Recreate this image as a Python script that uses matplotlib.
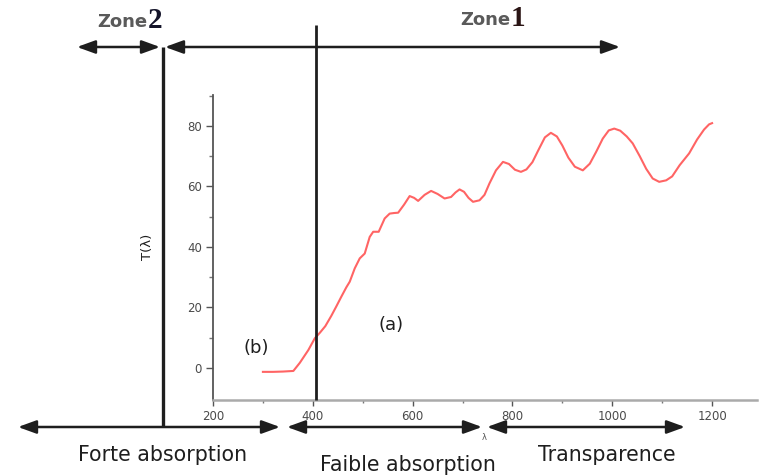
import matplotlib
matplotlib.use("Agg")
import matplotlib.pyplot as plt
from matplotlib.patches import FancyArrowPatch
import numpy as np

# transmission spectrum T(lambda), read point by point
wavelength = [300, 320, 340, 361, 374, 391, 404, 414, 425, 437, 447, 457, 467, 474, 484, 494, 504,
              514, 521, 532, 544, 554, 563, 571, 583, 594, 603, 611, 624, 637, 650, 664,
              677, 686, 694, 703, 712, 721, 734, 744, 754, 767, 781, 793, 805, 817,
              828, 840, 852, 865, 877, 889, 900, 912, 925, 941, 955, 968, 981, 993,
              1004, 1016, 1029, 1041, 1055, 1068, 1081, 1094, 1108, 1120, 1135, 1154,
              1170, 1184, 1194, 1200]
transmission = [-1.3, -1.3, -1.2, -1.0, 1.7, 5.9, 9.8, 11.6, 13.8, 17.2, 20.3, 23.5, 26.6, 28.5, 32.9, 36.2, 37.8,
                43.3, 45.0, 45.0, 49.4, 51.0, 51.2, 51.3, 54.0, 56.8, 56.2, 55.2, 57.2, 58.5, 57.5, 56.0,
                56.5, 58.0, 59.0, 58.2, 56.2, 54.9, 55.4, 57.2, 61.0, 65.3, 68.1, 67.4, 65.5, 64.8,
                65.6, 68.0, 72.0, 76.2, 77.7, 76.5, 73.5, 69.5, 66.5, 65.3, 67.5, 71.5, 75.8, 78.5,
                79.1, 78.4, 76.5, 74.2, 70.0, 65.8, 62.6, 61.5, 62.0, 63.3, 67.0, 70.9,
                75.5, 78.8, 80.5, 80.9]

x_major = [200, 400, 600, 800, 1000, 1200]
y_major = [0, 20, 40, 60, 80]

W, H = 762, 475
fig = plt.figure(figsize=(W / 100, H / 100), dpi=100)

# spectrum axes
ax = fig.add_axes([213 / W, 75 / H, 544 / W, 305 / H])
ax.plot(wavelength, transmission, color='#ff6464', lw=1.5, zorder=3,
        solid_joinstyle='round')
ax.set_xlim(200, 1290)
ax.set_ylim(-10.6, 90.2)
ax.set_xticks(x_major)
ax.set_xticks(np.arange(300, 1300, 200), minor=True)
ax.set_yticks(y_major)
ax.set_yticks([10, 30, 50, 70, 90], minor=True)
for s in ['top', 'right']:
    ax.spines[s].set_visible(False)
ax.spines['left'].set_color('#555555')
ax.spines['left'].set_linewidth(1.3)
ax.spines['bottom'].set_color('#aaaaaa')
ax.spines['bottom'].set_linewidth(1.8)
ax.tick_params(axis='y', which='major', length=5, width=1, color='#555555',
               labelsize=8.5, labelcolor='#4a4a4a', pad=3)
ax.tick_params(axis='y', which='minor', length=3, width=1, color='#777777')
ax.tick_params(axis='x', which='major', length=4, width=1, color='#555555',
               labelsize=8.5, labelcolor='#4a4a4a', pad=3)
ax.tick_params(axis='x', which='minor', length=2, width=1, color='#777777')
ax.patch.set_alpha(0)

# overlay in pixel units for the zone marks
ov = fig.add_axes([0, 0, 1, 1], zorder=5)
ov.set_xlim(0, W)
ov.set_ylim(H, 0)
ov.axis('off')
ov.patch.set_alpha(0)

ink = '#1e1e1e'


def arrow(x0, x1, y):
    ov.add_patch(FancyArrowPatch((x0, y), (x1, y),
                                 arrowstyle='<|-|>,head_length=1.1,head_width=0.4',
                                 mutation_scale=10, shrinkA=0, shrinkB=0,
                                 color=ink, lw=1.8))


# top: zone 2 / zone 1
arrow(77, 160, 47)
arrow(165, 620, 47)
# bottom: absorption regimes
arrow(18, 280, 427)
arrow(287, 482, 427)
arrow(487, 685, 427)

ov.plot([163, 163], [47, 426], color=ink, lw=2.4, solid_capstyle='butt')
ov.plot([316, 316], [25, 400], color=ink, lw=2.0, solid_capstyle='butt')

ov.text(147, 22, 'Zone', ha='right', va='center', fontsize=13, color='#5a5a5a',
        weight='bold')
ov.text(148, 20, '2', ha='left', va='center', fontsize=21, color='#14142a',
        family='Liberation Serif', weight='bold')
ov.text(510, 20, 'Zone', ha='right', va='center', fontsize=13, color='#5a5a5a',
        weight='bold')
ov.text(511, 18, '1', ha='left', va='center', fontsize=21, color='#2a1414',
        family='Liberation Serif', weight='bold')

ov.text(163, 455, 'Forte absorption', ha='center', va='center', fontsize=14.8, color=ink)
ov.text(408, 465, 'Faible absorption', ha='center', va='center', fontsize=14.8, color=ink)
ov.text(607, 455, 'Transparence', ha='center', va='center', fontsize=14.8, color=ink)
ov.text(484, 437, 'λ', ha='center', va='center', fontsize=6, color='#555555')

ov.text(391, 325, '(a)', ha='center', va='center', fontsize=13, color=ink)
ov.text(256, 348, '(b)', ha='center', va='center', fontsize=13, color=ink)
ov.text(147, 247, 'T(λ)', ha='center', va='center', rotation=90, fontsize=9.5, color=ink)

fig.savefig('out.png', dpi=100)
